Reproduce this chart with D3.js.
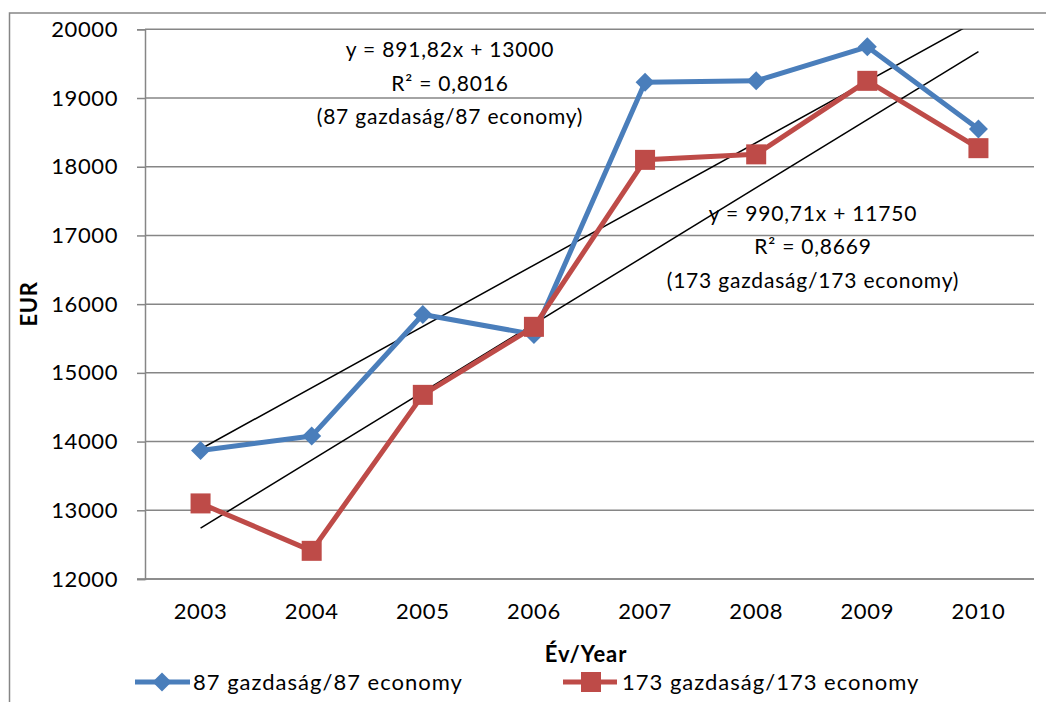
<!DOCTYPE html>
<html><head><meta charset="utf-8">
<script src="https://cdn.jsdelivr.net/npm/d3@7/dist/d3.min.js"></script>
<style>body{margin:0;background:#fff;}svg{display:block;font-family:Lato,"Open Sans",sans-serif;}</style>
</head><body>
<svg id="c" width="1046" height="702"></svg>
<script>
const years = ["2003","2004","2005","2006","2007","2008","2009","2010"];
const series87 = [13870, 14080, 15850, 15560, 19230, 19250, 19745, 18550];
const series173 = [13100, 12410, 14680, 15670, 18100, 18180, 19250, 18270];
const yTicks = [12000,13000,14000,15000,16000,17000,18000,19000,20000];
const trend87 = {slope: 891.82, intercept: 13000};
const trend173 = {slope: 990.71, intercept: 11750};
const label87 = ["y = 891,82x + 13000", "R² = 0,8016", "(87 gazdaság/87 economy)"];
const label173 = ["y = 990,71x + 11750", "R² = 0,8669", "(173 gazdaság/173 economy)"];
const legendNames = ["87 gazdaság/87 economy", "173 gazdaság/173 economy"];

const svg = d3.select("#c");
const L = 145, R = 1034, T = 29.3, B = 579;
const x = d3.scaleBand().domain(years).range([L, R]);
const y = d3.scaleLinear().domain([12000, 20000]).range([B, T]);
const grid = "#868686";
const blue = "#4A7EBB", red = "#BE4B48";

// outer border
svg.append("rect").attr("x", 9.5).attr("y", 13).attr("width", 1060).attr("height", 720)
  .attr("fill", "none").attr("stroke", grid).attr("stroke-width", 1.5);

// gridlines
svg.append("g").selectAll("line").data(yTicks).join("line")
  .attr("x1", L).attr("x2", R).attr("y1", d => y(d)).attr("y2", d => y(d))
  .attr("stroke", grid).attr("stroke-width", 1.5);

// y axis
const yAxis = d3.axisLeft(y).tickValues(yTicks).tickSize(8).tickPadding(19).tickFormat(d3.format("d"));
const gy = svg.append("g").attr("transform", `translate(${L},0)`).call(yAxis);
gy.select(".domain").attr("stroke", grid).attr("stroke-width", 1.5);
gy.selectAll(".tick line").attr("stroke", grid).attr("stroke-width", 1.5);
gy.selectAll("text").attr("font-size", 22).attr("letter-spacing", 0.6).attr("fill", "#000").attr("font-family", "Lato");

// x axis
const xAxis = d3.axisBottom(x).tickSize(0).tickPadding(24);
const gx = svg.append("g").attr("transform", `translate(0,${B})`).call(xAxis);
gx.select(".domain").attr("stroke", grid).attr("stroke-width", 1.5).attr("d", `M${L-8},0H${R}`);
gx.selectAll("text").attr("font-size", 22).attr("letter-spacing", 0.7).attr("fill", "#000").attr("font-family", "Lato");

// axis titles
svg.append("text").attr("transform", `translate(31,304) rotate(-90)`).attr("text-anchor", "middle")
  .attr("dominant-baseline", "middle").attr("font-weight", "bold").attr("font-size", 22).attr("letter-spacing", 0.6).text("EUR");
svg.append("text").attr("x", 586).attr("y", 662).attr("text-anchor", "middle")
  .attr("font-weight", "bold").attr("font-size", 22).attr("letter-spacing", 0.9).text("Év/Year");

// clip
svg.append("clipPath").attr("id", "clip").append("rect").attr("x", L).attr("y", T).attr("width", R - L).attr("height", B - T);

// trendlines
const cx = i => x(years[i]) + x.bandwidth() / 2;
[trend87, trend173].forEach(t => {
  svg.append("line").attr("clip-path", "url(#clip)")
    .attr("x1", cx(0)).attr("y1", y(t.slope * 1 + t.intercept))
    .attr("x2", cx(7)).attr("y2", y(t.slope * 8 + t.intercept))
    .attr("stroke", "#000").attr("stroke-width", 1.5);
});

// series lines
const line = d3.line().x((d, i) => cx(i)).y(d => y(d));
svg.append("path").datum(series87).attr("d", line).attr("fill", "none").attr("stroke", blue).attr("stroke-width", 5).attr("stroke-linejoin", "round");
svg.append("path").datum(series173).attr("d", line).attr("fill", "none").attr("stroke", red).attr("stroke-width", 5).attr("stroke-linejoin", "round");

// markers
const diamond = (g, px, py) => g.append("path").attr("d", `M${px},${py-9.5}L${px+9.5},${py}L${px},${py+9.5}L${px-9.5},${py}Z`).attr("fill", blue);
series87.forEach((v, i) => diamond(svg, cx(i), y(v)));
svg.append("g").selectAll("rect").data(series173).join("rect")
  .attr("x", (d, i) => cx(i) - 10).attr("y", d => y(d) - 10).attr("width", 20).attr("height", 20).attr("fill", red);

// trend labels
function labelBlock(lines, cxp, baseline) {
  lines.forEach((s, i) => svg.append("text").attr("x", cxp).attr("y", baseline + i * 33.5)
    .attr("text-anchor", "middle").attr("font-size", 21).attr("letter-spacing", 0.8).attr("fill", "#000").text(s));
}
labelBlock(label87, 450, 57);
labelBlock(label173, 813, 220.5);

// legend
const lg = svg.append("g");
lg.append("line").attr("x1", 135).attr("x2", 190).attr("y1", 682).attr("y2", 682).attr("stroke", blue).attr("stroke-width", 5);
diamond(lg, 162, 682);
lg.append("text").attr("x", 193).attr("y", 690).attr("font-size", 22).attr("letter-spacing", 1).text(legendNames[0]);
lg.append("line").attr("x1", 563).attr("x2", 617).attr("y1", 682).attr("y2", 682).attr("stroke", red).attr("stroke-width", 5);
lg.append("rect").attr("x", 581).attr("y", 672).attr("width", 20).attr("height", 20).attr("fill", red);
lg.append("text").attr("x", 622).attr("y", 690).attr("font-size", 22).attr("letter-spacing", 1).text(legendNames[1]);
</script>
</body></html>
